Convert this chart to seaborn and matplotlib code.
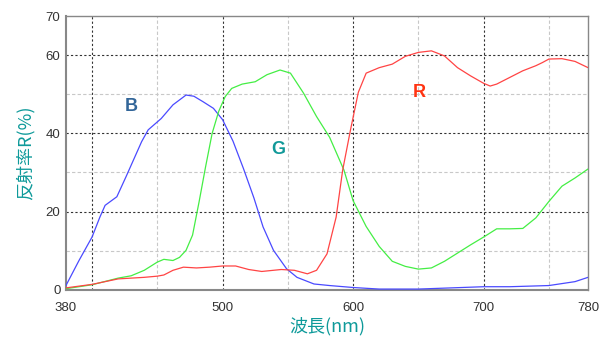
import matplotlib
matplotlib.use("Agg")
import matplotlib.pyplot as plt
import seaborn as sns
import pandas as pd

sns.set_theme(style="white")
plt.rcParams['font.family'] = ['Noto Sans CJK JP', 'DejaVu Sans']

# Blue (B) reflectance
b_nm = [380, 390, 400, 406, 410, 419, 426, 438, 443, 453, 462, 472, 478, 485, 493, 500,
        508, 516, 524, 531, 539, 549, 557, 570, 582, 600, 620, 650, 700, 720, 750, 770, 780]
b_val = [1.1, 7.5, 13.5, 18.6, 21.6, 23.8, 28.9, 37.9, 40.9, 43.8, 47.3, 49.8, 49.5, 48.1, 46.4, 43.5,
         38.0, 31.0, 23.5, 16.1, 10.1, 5.4, 3.2, 1.5, 1.1, 0.6, 0.2, 0.2, 0.8, 0.8, 1.1, 2.1, 3.2]

# Green (G) reflectance
g_nm = [380, 400, 420, 430, 440, 450, 455, 462, 467, 472, 477, 482, 487, 492, 497, 502, 507, 515,
        525, 534, 544, 552, 562, 572, 582, 593, 600, 610, 620, 630, 640, 650, 660, 670, 680, 690,
        700, 710, 720, 730, 740, 750, 760, 770, 780]
g_val = [0.3, 1.3, 3.0, 3.6, 5.0, 7.1, 7.8, 7.5, 8.3, 10.1, 14.0, 22.5, 31.5, 40.0, 45.6, 49.4, 51.5, 52.6,
         53.2, 55.0, 56.2, 55.4, 50.3, 44.3, 39.0, 30.6, 22.8, 16.2, 11.1, 7.3, 6.0, 5.3, 5.6, 7.3, 9.4, 11.5,
         13.5, 15.6, 15.6, 15.7, 18.4, 22.6, 26.5, 28.6, 30.9]

# Red (R) reflectance
r_nm = [380, 400, 420, 440, 450, 455, 462, 470, 480, 490, 500, 510, 520, 530, 545, 555, 565, 572,
        580, 587, 592, 598, 604, 610, 620, 630, 640, 650, 660, 670, 680, 690, 700, 705, 710, 720,
        730, 740, 745, 750, 760, 770, 780]
r_val = [0.5, 1.4, 2.8, 3.2, 3.5, 3.8, 5.0, 5.8, 5.6, 5.8, 6.1, 6.1, 5.2, 4.7, 5.2, 5.0, 4.1, 5.0,
         9.2, 18.6, 30.6, 40.9, 50.5, 55.4, 56.8, 57.7, 59.7, 60.7, 61.1, 59.8, 56.8, 54.7, 52.8, 52.1, 52.6, 54.3,
         56.0, 57.3, 58.1, 59.0, 59.1, 58.4, 56.8]

x_ticks = [380, 500, 600, 700, 780]
y_ticks = [0, 20, 40, 60, 70]

df = pd.concat([
    pd.DataFrame({"nm": b_nm, "R": b_val, "ch": "B"}),
    pd.DataFrame({"nm": g_nm, "R": g_val, "ch": "G"}),
    pd.DataFrame({"nm": r_nm, "R": r_val, "ch": "R"}),
])

fig = plt.figure(figsize=(6.05, 3.41), dpi=100)
ax = fig.add_axes([0.109, 0.150, 0.863, 0.803])

palette = {"B": "#4a4aff", "G": "#44ee44", "R": "#ff4444"}
sns.lineplot(data=df, x="nm", y="R", hue="ch", palette=palette, ax=ax,
             linewidth=0.9, legend=False, estimator=None, sort=False, zorder=3)

ax.set_xlim(380, 780)
ax.set_ylim(0, 70)

# grid lines
for x in [400, 500, 600, 700]:
    ax.axvline(x, color="#333333", lw=0.8, ls=(0, (2, 2)), zorder=1)
for x in [450, 550, 650, 750]:
    ax.axvline(x, color="#c8c8c8", lw=0.8, ls=(0, (3, 2)), zorder=1)
for y in [20, 40, 60]:
    ax.axhline(y, color="#333333", lw=0.8, ls=(0, (2, 2)), zorder=1)
for y in [10, 30, 50]:
    ax.axhline(y, color="#c8c8c8", lw=0.8, ls=(0, (3, 2)), zorder=1)

ax.set_xticks(x_ticks)
ax.set_yticks(y_ticks)
ax.set_xticklabels([str(v) for v in x_ticks], family=["Liberation Sans"], fontsize=9.5, color="#333333")
ax.set_yticklabels([str(v) for v in y_ticks], family=["Liberation Sans"], fontsize=9.5, color="#333333")
ax.tick_params(axis="x", length=0, pad=9)
ax.tick_params(axis="y", length=0, pad=4)

for s in ax.spines.values():
    s.set_color("#888888")
    s.set_linewidth(1.0)
ax.spines["left"].set_linewidth(1.5)
ax.spines["bottom"].set_linewidth(1.5)

ax.set_xlabel("波長(nm)", color="#0e9a9a", fontsize=13, labelpad=2)
ax.set_ylabel("反射率R(%)", color="#0e9a9a", fontsize=13, labelpad=8)

ax.text(430, 46.8, "B", color="#336699", fontsize=13, fontweight="bold",
        family=["Liberation Sans"], ha="center", va="center")
ax.text(543, 35.8, "G", color="#119999", fontsize=13, fontweight="bold",
        family=["Liberation Sans"], ha="center", va="center")
ax.text(651, 50.4, "R", color="#ff3311", fontsize=13, fontweight="bold",
        family=["Liberation Sans"], ha="center", va="center")

fig.savefig("out.png", dpi=100)
